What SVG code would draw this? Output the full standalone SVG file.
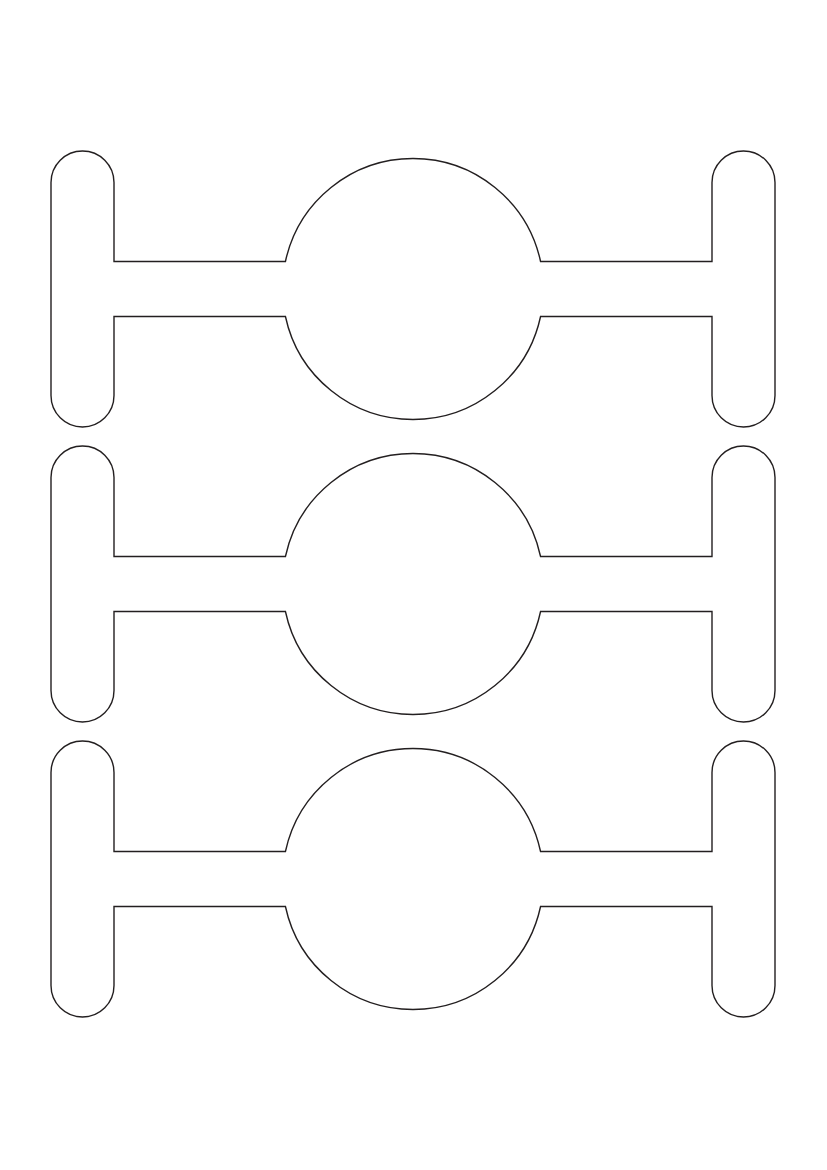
<svg xmlns="http://www.w3.org/2000/svg" xmlns:xlink="http://www.w3.org/1999/xlink" width="827" height="1170" viewBox="0 0 827 1170">
<style>
.lbl{fill:#ffffff;stroke:#231f20;stroke-width:1.4;stroke-linejoin:miter}
</style>
<defs>
<path id="shape" d="M114,261.5 V182.5 A31.5,31.5 0 0 0 51,182.5 V395.5 A31.5,31.5 0 0 0 114,395.5 V316.5 H285.43 A130.5,130.5 0 0 0 540.57,316.5 H712 V395.5 A31.5,31.5 0 0 0 775,395.5 V182.5 A31.5,31.5 0 0 0 712,182.5 V261.5 H540.57 A130.5,130.5 0 0 0 285.43,261.5 Z"/>
</defs>
<rect width="827" height="1170" fill="#ffffff"/>
<g id="label1"><use xlink:href="#shape" href="#shape" class="lbl"/></g>
<g id="label2"><use xlink:href="#shape" href="#shape" class="lbl" transform="translate(0,295)"/></g>
<g id="label3"><use xlink:href="#shape" href="#shape" class="lbl" transform="translate(0,590)"/></g>
<g id="connectors"></g>
</svg>
